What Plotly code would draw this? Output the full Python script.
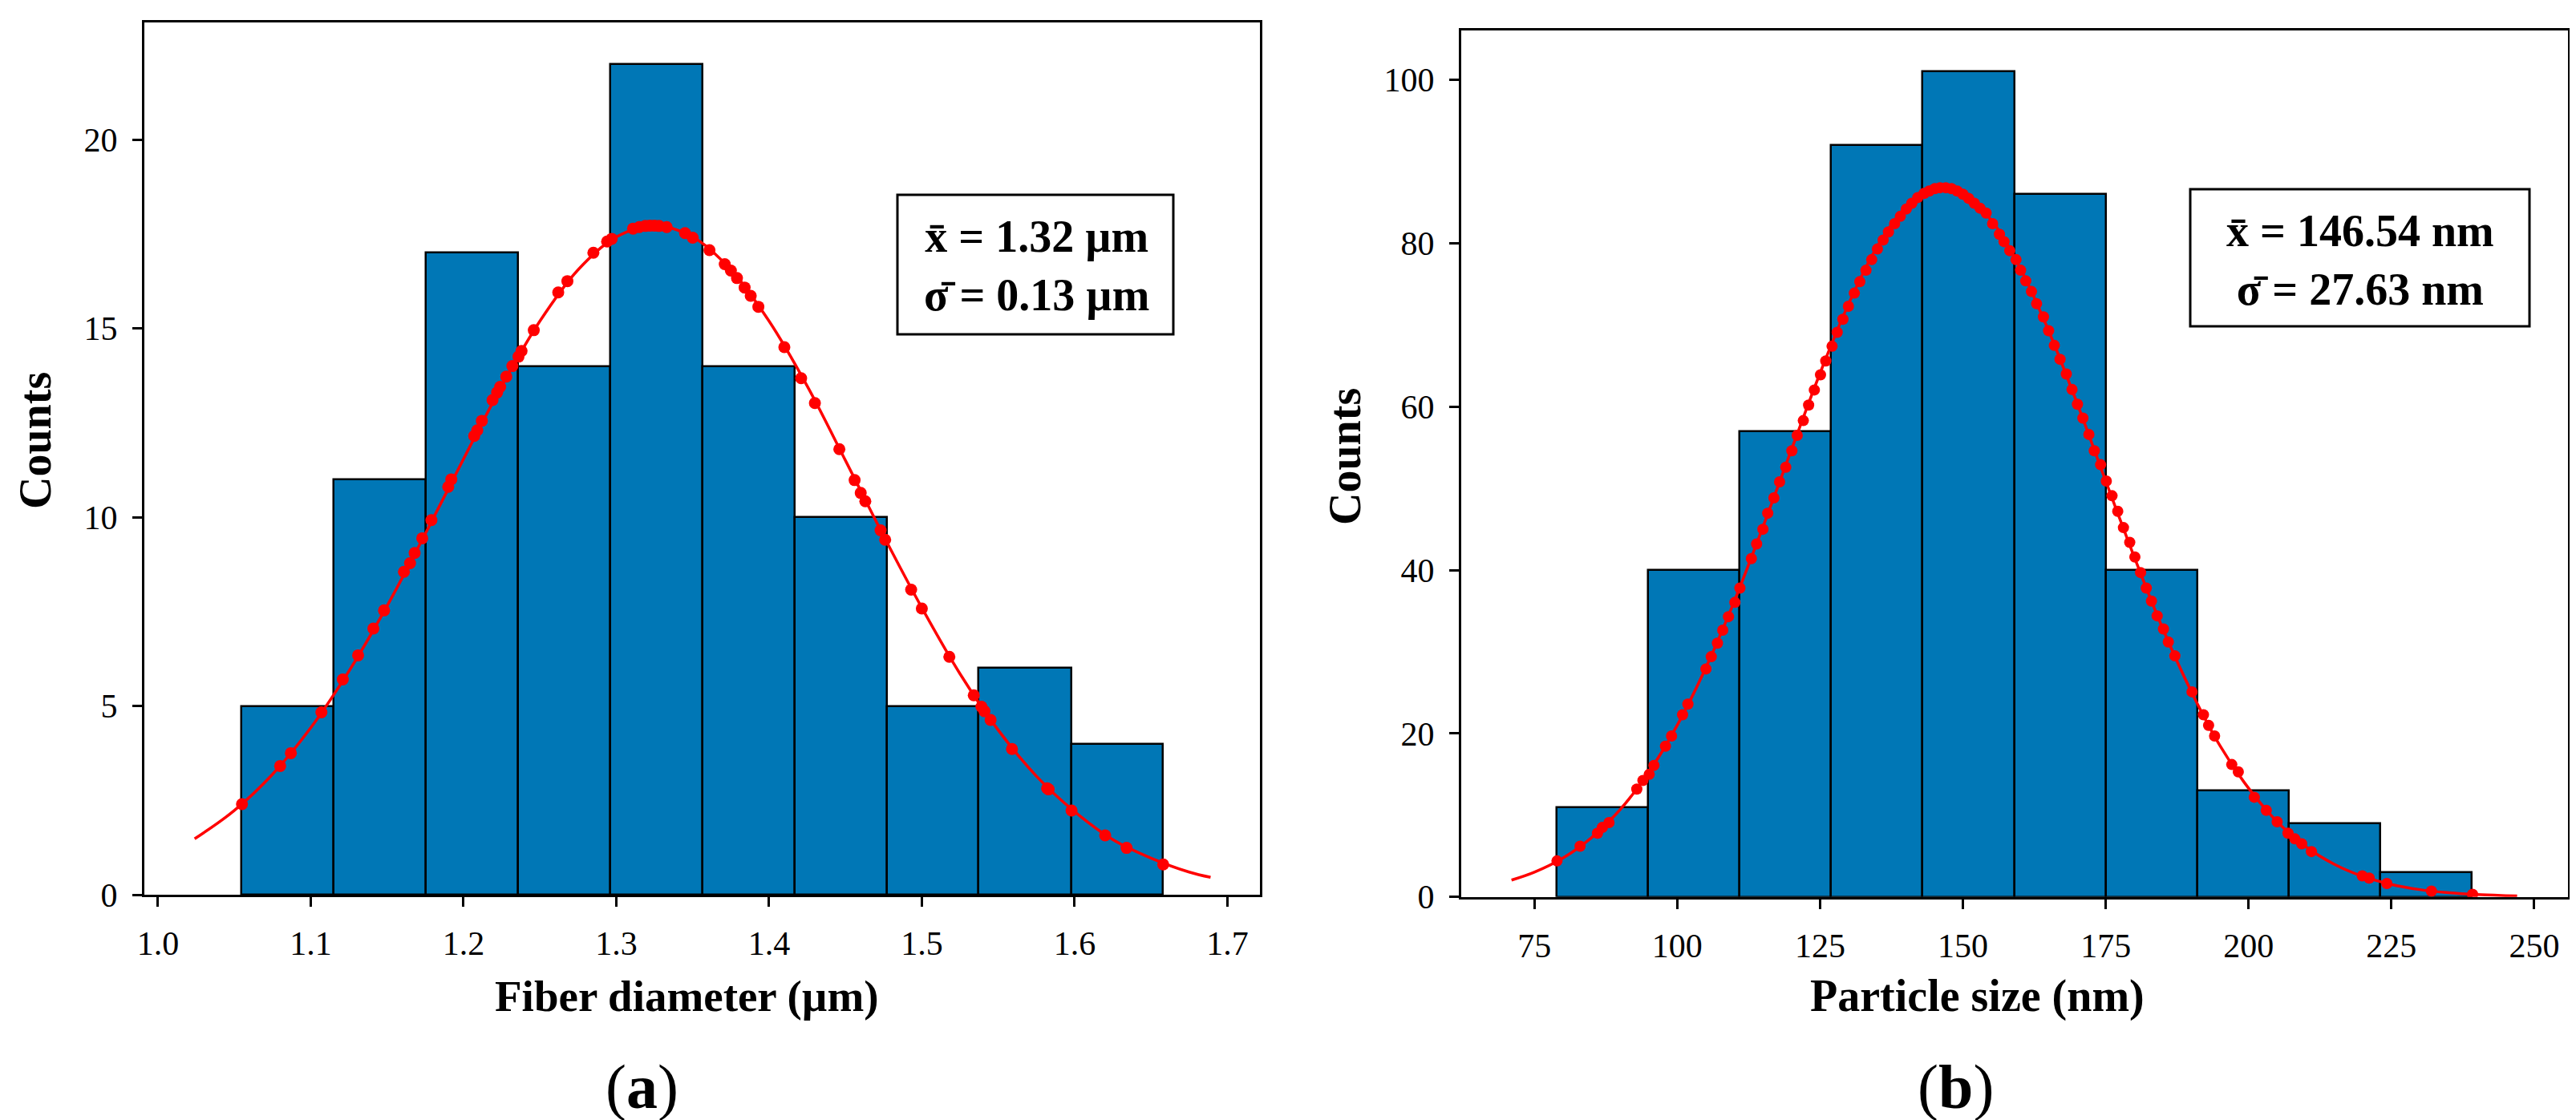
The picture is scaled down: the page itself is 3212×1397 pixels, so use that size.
import numpy as np
import plotly.graph_objects as go
from plotly.subplots import make_subplots

W, H = 3212, 1397
SERIF = "Liberation Serif"
BLUE = "#0077b6"
RED = "#ff0000"

# ---- (a) fiber diameter ----
fiber_edges = [1.0545, 1.1149, 1.1752, 1.2356, 1.2959, 1.3563, 1.4166, 1.4770, 1.5373, 1.5977, 1.6580]
fiber_counts = [5, 11, 17, 14, 22, 14, 10, 5, 6, 4]

fiber_fit_x = [1.024, 1.05, 1.075, 1.10, 1.125, 1.15, 1.175, 1.20, 1.225, 1.25, 1.275, 1.30, 1.325,
               1.35, 1.375, 1.40, 1.425, 1.45, 1.475, 1.50, 1.525, 1.55, 1.575, 1.60, 1.625, 1.65,
               1.675, 1.689]
fiber_fit_y = [1.48, 2.23, 3.19, 4.42, 5.92, 7.65, 9.56, 11.54, 13.47, 15.19, 16.55, 17.42, 17.72,
               17.42, 16.55, 15.19, 13.47, 11.5, 9.5, 7.6, 5.85, 4.36, 3.14, 2.2, 1.46, 0.97,
               0.6, 0.46]

fiber_dot_x = [1.055, 1.080, 1.087, 1.107, 1.121, 1.131, 1.141, 1.148, 1.161, 1.165,
               1.168, 1.173, 1.179, 1.190, 1.192, 1.207, 1.209, 1.212, 1.219, 1.222,
               1.224, 1.228, 1.232, 1.236, 1.238, 1.246, 1.262, 1.268, 1.285, 1.294,
               1.297, 1.311, 1.315, 1.319, 1.322, 1.325, 1.328, 1.333, 1.345, 1.350,
               1.361, 1.371, 1.375, 1.379, 1.384, 1.388, 1.393, 1.410, 1.421, 1.430,
               1.446, 1.456, 1.460, 1.463, 1.473, 1.476, 1.493, 1.500, 1.518, 1.534,
               1.539, 1.541, 1.545, 1.559, 1.582, 1.583, 1.598, 1.620, 1.634, 1.658]
fiber_dot_y = [2.40, 3.41, 3.75, 4.83, 5.70, 6.34, 7.05, 7.53, 8.55, 8.78,
               9.05, 9.44, 9.92, 10.8, 11.0, 12.15, 12.3, 12.55, 13.1, 13.3,
               13.45, 13.72, 14.0, 14.25, 14.4, 14.95, 15.95, 16.25, 17.0, 17.3,
               17.37, 17.64, 17.68, 17.71, 17.72, 17.72, 17.71, 17.68, 17.52, 17.4,
               17.07, 16.7, 16.53, 16.33, 16.08, 15.86, 15.57, 14.5, 13.68, 13.02,
               11.8, 10.98, 10.64, 10.42, 9.65, 9.4, 8.08, 7.58, 6.3, 5.28,
               4.98, 4.86, 4.63, 3.86, 2.82, 2.79, 2.23, 1.57, 1.24, 0.8]

# ---- (b) particle size ----
particle_edges = [78.9, 94.9, 110.9, 126.9, 142.9, 159.0, 175.0, 191.0, 207.0, 223.0, 239.0]
particle_counts = [11, 40, 57, 92, 101, 86, 40, 13, 9, 3]

particle_fit_x = [71, 75, 80, 85, 90, 95, 100, 105, 110, 115, 120, 125, 130, 135, 140, 145, 146.5,
                  150, 155, 160, 165, 170, 175, 180, 185, 190, 195, 200, 205, 210, 215, 220, 225,
                  230, 235, 240, 245, 247]
particle_fit_y = [2.06, 3.03, 4.76, 7.25, 10.68, 15.22, 21.0, 28.04, 36.2, 45.26, 54.75, 64.1, 72.6,
                  79.6, 84.4, 86.7, 86.8, 86.1, 82.8, 77.0, 69.3, 60.4, 50.9, 41.6, 32.8, 25.1,
                  18.5, 13.3, 9.2, 6.15, 3.99, 2.5, 1.52, 0.89, 0.51, 0.28, 0.15, 0.11]

particle_dot_x = [78.96, 83.0, 86.05, 86.9, 88.06, 92.93, 94.0, 95.1, 95.93, 97.94,
                  99.01, 100.94, 101.87, 105.03, 105.96, 107.04, 107.97, 108.97, 110.1, 110.97,
                  112.98, 113.9, 115.0, 115.84, 116.92, 117.92, 119.0, 120.07, 121.0, 122.07,
                  123.0, 124.0, 125.08, 126.0, 127.1, 128.0, 129.0, 129.96, 131.0, 131.96,
                  133.04, 134.04, 135.04, 136.04, 136.97, 138.05, 139.05, 140.1, 141.06, 142.1,
                  143.2, 144.1, 145.1, 146.0, 147.0, 148.0, 149.0, 150.0, 151.0, 152.0,
                  153.0, 154.07, 155.2, 156.4, 157.2, 158.2, 159.3, 160.1, 161.0, 162.0,
                  162.9, 164.1, 165.0, 166.0, 167.0, 168.1, 169.1, 170.05, 171.0, 172.05,
                  173.0, 174.1, 175.1, 176.1, 177.1, 178.1, 179.2, 180.1, 181.1, 182.1,
                  183.0, 184.0, 185.1, 185.95, 187.1, 190.1, 192.1, 193.0, 194.05, 197.06,
                  198.2, 201.0, 203.1, 205.0, 206.9, 208.1, 209.3, 211.0, 219.9, 221.1,
                  224.2, 232.0, 239.2]
particle_dot_y = [4.4, 6.2, 7.8, 8.5, 9.1, 13.2, 14.25, 15.0, 16.1, 18.45,
                  19.7, 22.3, 23.6, 27.9, 29.4, 31.05, 32.65, 34.3, 36.05, 37.8,
                  41.4, 43.2, 45.0, 46.96, 48.84, 50.8, 52.6, 54.6, 56.5, 58.3,
                  60.2, 62.05, 63.9, 65.6, 67.4, 69.1, 70.7, 72.3, 73.9, 75.3,
                  76.7, 78.0, 79.3, 80.4, 81.4, 82.4, 83.3, 84.2, 84.9, 85.6,
                  86.1, 86.4, 86.7, 86.8, 86.8, 86.7, 86.4, 86.0, 85.5, 84.9,
                  84.3, 83.7, 82.4, 81.1, 80.2, 79.1, 78.0, 76.7, 75.4, 74.1,
                  72.6, 71.0, 69.3, 67.5, 65.8, 64.0, 62.1, 60.3, 58.6, 56.6,
                  54.6, 52.9, 50.9, 49.1, 47.2, 45.2, 43.4, 41.6, 39.7, 37.8,
                  36.2, 34.4, 32.8, 31.2, 29.5, 25.1, 22.3, 21.0, 19.7, 16.2,
                  15.3, 12.2, 10.6, 9.2, 7.8, 7.1, 6.5, 5.55, 2.57, 2.3,
                  1.64, 0.7, 0.32]


def px_x(x):
    return x / W


def px_y(y):
    return 1 - y / H


def add_panel(fig, col, edges, counts, fit_x, fit_y, dot_x, dot_y, dot_size):
    e = np.array(edges)
    fig.add_trace(go.Bar(x=(e[:-1] + e[1:]) / 2, y=counts, width=np.diff(e),
                         marker=dict(color=BLUE, line=dict(color="black", width=2.5)),
                         hoverinfo="skip"), row=1, col=col)
    fig.add_trace(go.Scatter(x=fit_x, y=fit_y, mode="lines", line=dict(color=RED, width=3.5, shape="spline"),
                             hoverinfo="skip"), row=1, col=col)
    fig.add_trace(go.Scatter(x=dot_x, y=dot_y, mode="markers",
                             marker=dict(color=RED, size=dot_size, line=dict(width=0))),
                  row=1, col=col)


fig = make_subplots(rows=1, cols=2)
add_panel(fig, 1, fiber_edges, fiber_counts, fiber_fit_x, fiber_fit_y, fiber_dot_x, fiber_dot_y, 15)
add_panel(fig, 2, particle_edges, particle_counts, particle_fit_x, particle_fit_y,
          particle_dot_x, particle_dot_y, 14)

axis_style = dict(showline=True, linecolor="black", linewidth=3, mirror=True,
                  ticks="outside", ticklen=12, tickwidth=2.5, tickcolor="black",
                  showgrid=False, zeroline=False, automargin=False, ticklabelstandoff=10,
                  tickfont=dict(family=SERIF, size=42, color="black"))

fig.update_layout(
    xaxis=dict(axis_style, domain=[px_x(172), px_x(1563)], range=[0.9911, 1.7213],
               tick0=1.0, dtick=0.1, tickformat=".1f"),
    yaxis=dict(axis_style, domain=[px_y(1108), px_y(20)], range=[0, 23.1], tick0=0, dtick=5),
    xaxis2=dict(axis_style, domain=[px_x(1814), px_x(3194)], range=[62.2, 255.9],
                tick0=0, dtick=25),
    yaxis2=dict(axis_style, domain=[px_y(1110.7), px_y(30)], range=[0, 106.05], tick0=0, dtick=20),
)

# stats boxes
for x0, x1, y0, y1 in [(1111, 1455, 235, 409), (2723, 3146, 228, 399)]:
    fig.add_shape(type="rect", xref="paper", yref="paper",
                  x0=px_x(x0), x1=px_x(x1), y0=px_y(y1), y1=px_y(y0),
                  line=dict(color="black", width=3), fillcolor="white", layer="above")

texts = [
    ("<b>x\u0304 = 1.32 \u00b5m<br>\u03c3\u0304 = 0.13 \u00b5m</b>", 1284, 323, 56, 0),
    ("<b>x\u0304 = 146.54 nm<br>\u03c3\u0304 = 27.63 nm</b>", 2935, 316, 56, 0),
    ("<b>Counts</b>", 36, 542, 56, -90),
    ("<b>Counts</b>", 1669, 562, 56, -90),
    ("<b>Fiber diameter (\u00b5m)</b>", 848, 1234, 55, 0),
    ("<b>Particle size (nm)</b>", 2457, 1234, 56, 0),
    ("(<b>a</b>)", 792, 1347, 78, 0),
    ("(<b>b</b>)", 2430, 1347, 78, 0),
]
for text, x, y, size, angle in texts:
    fig.add_annotation(text=text, xref="paper", yref="paper", x=px_x(x), y=px_y(y),
                       xanchor="center", yanchor="middle", showarrow=False, textangle=angle,
                       font=dict(family=SERIF, size=size, color="black"))

fig.update_layout(width=W, height=H, margin=dict(l=0, r=0, t=0, b=0),
                  plot_bgcolor="white", paper_bgcolor="white", showlegend=False,
                  bargap=0, font=dict(family=SERIF, color="black"))

fig.write_html("out.html")
